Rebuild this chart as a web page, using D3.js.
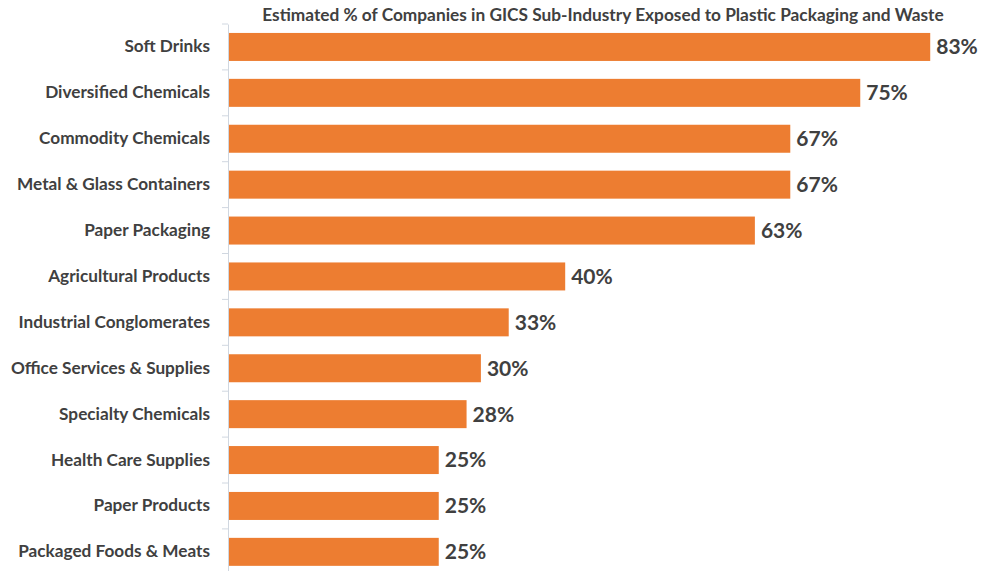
<!DOCTYPE html>
<html>
<head>
<meta charset="utf-8">
<script src="https://cdn.jsdelivr.net/npm/d3@7"></script>
<style>
body { margin: 0; background: #fff; }
</style>
</head>
<body>
<svg id="chart"></svg>
<script>
// DATA

var categories = ["Soft Drinks", "Diversified Chemicals", "Commodity Chemicals",
	"Metal & Glass Containers", "Paper Packaging", "Agricultural Products",
	"Industrial Conglomerates", "Office Services & Supplies", "Specialty Chemicals",
	"Health Care Supplies", "Paper Products", "Packaged Foods & Meats"];

var values = [83.3, 75, 66.7, 66.7, 62.5, 40, 33.3, 30, 28.3, 25, 25, 25];

var title = "Estimated % of Companies in GICS Sub-Industry Exposed to Plastic Packaging and Waste";

// DIMENSIONS

var width = 992,
	height = 571,
	marginLeft = 228,
	marginTop = 24;

var font = "Lato, sans-serif";

var svg = d3.select("#chart")
	.attr('width', width)
	.attr('height', height);

var xScale = d3.scaleLinear()
	.domain([0, 100])
	.range([marginLeft, marginLeft + 843]);

var yScale = d3.scaleBand()
	.domain(categories)
	.range([marginTop, marginTop + 12 * 45.9])
	.paddingInner(0.39)
	.paddingOuter(0.195);

// title
svg.append('text')
	.attr('x', 603)
	.attr('y', 21)
	.attr('text-anchor', 'middle')
	.style('font-family', font)
	.style('font-weight', 'bold')
	.style('font-size', '17.3px')
	.style('fill', '#404040')
	.text(title);

// bars
svg.selectAll('rect.bar').data(values)
	.enter().append('rect')
	.attr('class', 'bar')
	.attr('x', xScale(0))
	.attr('y', function(d, i) { return yScale(categories[i]); })
	.attr('width', function(d) { return xScale(d) - xScale(0); })
	.attr('height', yScale.bandwidth())
	.style('fill', '#ED7D31');

// value labels
svg.selectAll('text.val').data(values)
	.enter().append('text')
	.attr('class', 'val')
	.attr('x', function(d) { return xScale(d) + 6; })
	.attr('y', function(d, i) { return yScale(categories[i]) + yScale.bandwidth() / 2; })
	.attr('dy', '0.35em')
	.style('font-family', font)
	.style('font-weight', 'bold')
	.style('font-size', '21px')
	.style('fill', '#404040')
	.text(function(d) { return Math.round(d) + '%'; });

// axis
var yAxis = d3.axisLeft(yScale)
	.tickSize(0)
	.tickPadding(18);

var yGuide = svg.append('g')
	.attr('transform', 'translate(' + marginLeft + ',0)')
	.call(yAxis);

yGuide.select('.domain').attr('stroke', '#D0D7E0');
yGuide.selectAll('text')
	.style('font-family', font)
	.style('font-weight', 'bold')
	.style('font-size', '17.2px')
	.style('fill', '#404040');

// tick marks between categories
var bounds = d3.range(categories.length + 1).map(function(i) {
	return marginTop + i * yScale.step();
});
yGuide.selectAll('line.sep').data(bounds)
	.enter().append('line')
	.attr('class', 'sep')
	.attr('x1', -6).attr('x2', 0)
	.attr('y1', function(d) { return d; })
	.attr('y2', function(d) { return d; })
	.attr('stroke', '#D0D7E0');
</script>
</body>
</html>
